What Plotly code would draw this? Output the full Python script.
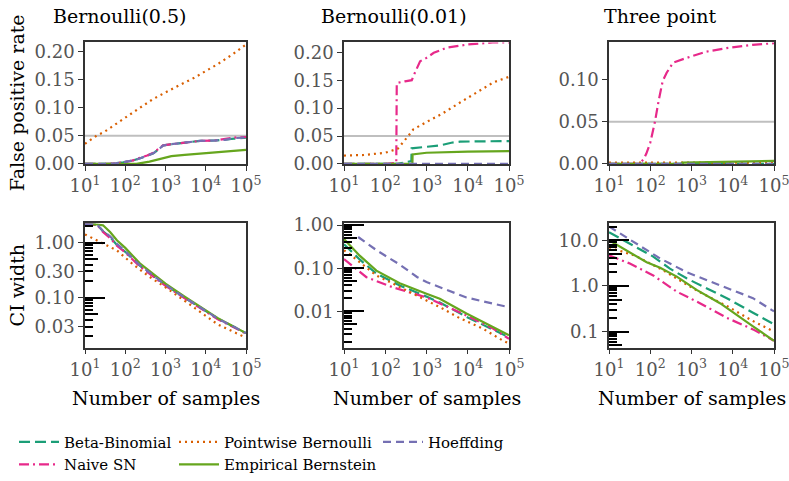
import plotly.graph_objects as go

# ---------------- data ----------------
# Panel 1: False positive rate, Bernoulli(0.5)
fpr1_x_bb = [10, 40, 90, 150, 235, 350, 500, 700, 870, 1300, 2500, 7200, 18000, 30000, 50000, 100000]
fpr1_bb = [0, 0, 0.003, 0.006, 0.010, 0.014, 0.019, 0.027, 0.033, 0.035, 0.037, 0.041, 0.042, 0.043, 0.045, 0.047]
fpr1_sn = [0, 0, 0.003, 0.006, 0.011, 0.015, 0.020, 0.028, 0.033, 0.035, 0.037, 0.041, 0.042, 0.044, 0.047, 0.048]
fpr1_hf = [0, 0, 0.003, 0.006, 0.010, 0.014, 0.019, 0.027, 0.033, 0.035, 0.037, 0.041, 0.042, 0.043, 0.046, 0.047]
fpr1_x_pb = [10, 20, 30, 50, 100, 200, 500, 1000, 2300, 5000, 10000, 20000, 48000, 100000]
fpr1_pb = [0.036, 0.051, 0.057, 0.068, 0.082, 0.097, 0.116, 0.128, 0.141, 0.153, 0.166, 0.178, 0.196, 0.213]
fpr1_x_eb = [10, 190, 400, 930, 1400, 3000, 7200, 12000, 25000, 50000, 70000, 100000]
fpr1_eb = [0, 0, 0.004, 0.010, 0.014, 0.016, 0.018, 0.019, 0.021, 0.022, 0.024, 0.025]

# Panel 2: False positive rate, Bernoulli(0.01)
fpr2_x_bb = [10, 200, 300, 430, 436, 1000, 2100, 4000, 6500, 100000]
fpr2_bb = [0, 0, 0.003, 0.005, 0.028, 0.030, 0.033, 0.038, 0.040, 0.041]
fpr2_x_sn = [10, 100, 185, 190, 300, 440, 500, 700, 1000, 1500, 3000, 6000, 10000, 40000, 100000]
fpr2_sn = [0, 0, 0.002, 0.145, 0.148, 0.150, 0.160, 0.184, 0.190, 0.199, 0.208, 0.211, 0.214, 0.2176, 0.2176]
fpr2_x_pb = [10, 30, 100, 200, 360, 480, 1000, 2400, 6500, 16500, 41700, 100000]
fpr2_pb = [0.015, 0.016, 0.020, 0.027, 0.050, 0.062, 0.075, 0.090, 0.110, 0.128, 0.146, 0.156]
fpr2_x_eb = [10, 455, 460, 1000, 10000, 100000]
fpr2_eb = [0, 0, 0.017, 0.020, 0.022, 0.023]
fpr2_x_hf = [10, 100000]
fpr2_hf = [0, 0]

# Panel 3: False positive rate, Three point
fpr3_x_bb = [10, 100000]
fpr3_bb = [0, 0]
fpr3_x_sn = [10, 55, 70, 80, 100, 120, 130, 160, 200, 250, 360, 760, 2300, 7000, 30000, 100000]
fpr3_sn = [0, 0, 0.006, 0.012, 0.025, 0.040, 0.050, 0.075, 0.098, 0.108, 0.120, 0.1255, 0.133, 0.137, 0.141, 0.143]
fpr3_x_pb = [10, 100000]
fpr3_pb = [0.0015, 0.0015]
fpr3_x_eb = [10, 550, 600, 10000, 100000]
fpr3_eb = [0, 0, 0.0015, 0.0025, 0.0035]
fpr3_x_hf = [10, 100000]
fpr3_hf = [0, 0]

# Panel 4: CI width, Bernoulli(0.5)
ci4_x = [10, 20, 28, 42, 62, 100, 230, 500, 1000, 3000, 7000, 20000, 100000]
ci4_bb = [2.15, 2.10, 1.60, 1.26, 0.90, 0.68, 0.38, 0.250, 0.170, 0.100, 0.068, 0.042, 0.023]
ci4_sn = [2.15, 2.08, 1.55, 1.20, 0.88, 0.66, 0.37, 0.245, 0.165, 0.098, 0.067, 0.041, 0.0225]
ci4_hf = [2.15, 2.10, 1.62, 1.30, 0.95, 0.70, 0.39, 0.255, 0.172, 0.101, 0.069, 0.042, 0.023]
ci4_eb = [2.12, 2.12, 2.05, 1.55, 1.10, 0.80, 0.42, 0.270, 0.180, 0.105, 0.071, 0.043, 0.023]
ci4_x_pb = [10, 15, 28, 62, 158, 400, 1070, 3000, 7240, 20000, 100000]
ci4_pb = [1.40, 1.20, 0.97, 0.72, 0.40, 0.24, 0.150, 0.088, 0.054, 0.033, 0.019]

# Panel 5: CI width, Bernoulli(0.01)
ci5_x = [10, 24, 61, 224, 1000, 2100, 9300, 41000, 100000]
ci5_bb = [0.36, 0.16, 0.075, 0.040, 0.022, 0.016, 0.0075, 0.0038, 0.0025]
ci5_eb = [0.475, 0.196, 0.088, 0.045, 0.0257, 0.0196, 0.0089, 0.0044, 0.0028]
ci5_x_sn = [10, 35, 155, 1000, 6300, 41000, 100000]
ci5_sn = [0.164, 0.062, 0.036, 0.021, 0.0096, 0.0040, 0.0023]
ci5_x_pb = [10, 14, 24, 61, 155, 570, 2500, 6300, 23000, 71000, 100000]
ci5_pb = [0.26, 0.21, 0.138, 0.068, 0.044, 0.0235, 0.0115, 0.0070, 0.0040, 0.0021, 0.0018]
ci5_x_hf = [22, 62, 229, 600, 1000, 3100, 9300, 42000, 100000]
ci5_hf = [0.53, 0.26, 0.12, 0.062, 0.048, 0.031, 0.021, 0.015, 0.0125]

# Panel 6: CI width, Three point
ci6_x_hf = [10, 32, 174, 760, 2300, 7200, 31000, 87000, 100000]
ci6_hf = [20, 10.3, 4.0, 2.0, 1.35, 0.89, 0.54, 0.30, 0.28]
ci6_x_bb = [10, 32, 118, 300, 760, 2300, 7200, 31000, 100000]
ci6_bb = [15, 8.5, 4.4, 2.4, 1.47, 0.89, 0.54, 0.26, 0.145]
ci6_x_eb = [10, 32, 82, 174, 440, 1330, 4900, 31000, 100000]
ci6_eb = [10, 5.5, 3.3, 2.5, 1.6, 0.82, 0.42, 0.13, 0.063]
ci6_x_sn = [10, 32, 118, 440, 1600, 7200, 31000, 100000]
ci6_sn = [4.7, 3.1, 1.7, 0.75, 0.42, 0.20, 0.112, 0.063]
ci6_x_pb = [10, 43, 100, 190, 500, 1500, 7800, 31000, 100000]
ci6_pb = [7.0, 4.6, 3.1, 2.3, 1.35, 0.75, 0.35, 0.17, 0.10]

# Labels
titles = ["Bernoulli(0.5)", "Bernoulli(0.01)", "Three point"]
x_tickvals = [10, 100, 1000, 10000, 100000]
x_ticktext = ["10<sup>1</sup>", "10<sup>2</sup>", "10<sup>3</sup>", "10<sup>4</sup>", "10<sup>5</sup>"]
fpr_ticks_12 = [0.0, 0.05, 0.10, 0.15, 0.20]
fpr_ticktext_12 = ["0.00", "0.05", "0.10", "0.15", "0.20"]
fpr_ticks_3 = [0.0, 0.05, 0.10]
fpr_ticktext_3 = ["0.00", "0.05", "0.10"]
ci4_ticks = [1.0, 0.3, 0.1, 0.03]
ci4_ticktext = ["1.00", "0.30", "0.10", "0.03"]
ci5_ticks = [1.0, 0.1, 0.01]
ci5_ticktext = ["1.00", "0.10", "0.01"]
ci6_ticks = [10, 1, 0.1]
ci6_ticktext = ["10.0", "1.0", "0.1"]
threshold = 0.05

# ---------------- styling ----------------
FONT = "DejaVu Serif, serif"
STYLE = {
    "Beta-Binomial": dict(color="#1b9e77", dash="11px,5px"),
    "Naive SN": dict(color="#e7298a", dash="10px,4px,2px,4px"),
    "Pointwise Bernoulli": dict(color="#d95f02", dash="2px,4px"),
    "Empirical Bernstein": dict(color="#66a61e", dash="solid"),
    "Hoeffding": dict(color="#7570b3", dash="8px,5px"),
}
LEGEND_OF = {
    "Beta-Binomial": "legend", "Naive SN": "legend",
    "Pointwise Bernoulli": "legend2", "Empirical Bernstein": "legend2",
    "Hoeffding": "legend3",
}
ORDER = ["Beta-Binomial", "Naive SN", "Pointwise Bernoulli", "Empirical Bernstein", "Hoeffding"]

panels = [
    {"Beta-Binomial": (fpr1_x_bb, fpr1_bb), "Naive SN": (fpr1_x_bb, fpr1_sn),
     "Pointwise Bernoulli": (fpr1_x_pb, fpr1_pb), "Empirical Bernstein": (fpr1_x_eb, fpr1_eb),
     "Hoeffding": (fpr1_x_bb, fpr1_hf)},
    {"Beta-Binomial": (fpr2_x_bb, fpr2_bb), "Naive SN": (fpr2_x_sn, fpr2_sn),
     "Pointwise Bernoulli": (fpr2_x_pb, fpr2_pb), "Empirical Bernstein": (fpr2_x_eb, fpr2_eb),
     "Hoeffding": (fpr2_x_hf, fpr2_hf)},
    {"Beta-Binomial": (fpr3_x_bb, fpr3_bb), "Naive SN": (fpr3_x_sn, fpr3_sn),
     "Pointwise Bernoulli": (fpr3_x_pb, fpr3_pb), "Empirical Bernstein": (fpr3_x_eb, fpr3_eb),
     "Hoeffding": (fpr3_x_hf, fpr3_hf)},
    {"Beta-Binomial": (ci4_x, ci4_bb), "Naive SN": (ci4_x, ci4_sn),
     "Pointwise Bernoulli": (ci4_x_pb, ci4_pb), "Empirical Bernstein": (ci4_x, ci4_eb),
     "Hoeffding": (ci4_x, ci4_hf)},
    {"Beta-Binomial": (ci5_x, ci5_bb), "Naive SN": (ci5_x_sn, ci5_sn),
     "Pointwise Bernoulli": (ci5_x_pb, ci5_pb), "Empirical Bernstein": (ci5_x, ci5_eb),
     "Hoeffding": (ci5_x_hf, ci5_hf)},
    {"Beta-Binomial": (ci6_x_bb, ci6_bb), "Naive SN": (ci6_x_sn, ci6_sn),
     "Pointwise Bernoulli": (ci6_x_pb, ci6_pb), "Empirical Bernstein": (ci6_x_eb, ci6_eb),
     "Hoeffding": (ci6_x_hf, ci6_hf)},
]

W, H = 789, 481
xdom_px = [(85, 246), (344, 509), (609, 774)]
ydom_top_px = (43, 166)
ydom_bot_px = (226, 352)

def xdom(i):
    a, b = xdom_px[i]
    return [a / W, b / W]

def ydom(px):
    return [1 - px[1] / H, 1 - px[0] / H]

fig = go.Figure()
for p, series in enumerate(panels):
    k = "" if p == 0 else str(p + 1)
    for name in ORDER:
        xs, ys = series[name]
        st = STYLE[name]
        fig.add_trace(go.Scatter(
            x=xs, y=ys, mode="lines", name=name, xaxis="x" + k, yaxis="y" + k,
            line=dict(color=st["color"], dash=st["dash"], width=2.2),
            showlegend=(p == 0), legend=LEGEND_OF[name], hoverinfo="skip"))

tickfont = dict(family=FONT, size=18, color="#555555")
axis_common = dict(showline=True, linecolor="#333333", linewidth=1.6, mirror=True,
                   ticks="outside", ticklen=5, tickwidth=1.4, tickcolor="#333333",
                   showgrid=False, zeroline=False, tickfont=tickfont, automargin=False,
                   ticklabeloverflow="allow")

layout = {}
fpr_ranges = [[0, 0.2165], [0, 0.2176], [0, 0.1438]]
fpr_ticks = [(fpr_ticks_12, fpr_ticktext_12), (fpr_ticks_12, fpr_ticktext_12), (fpr_ticks_3, fpr_ticktext_3)]
ci_ranges = [[-1.90, 0.35], [-2.84, 0.045], [-1.35, 1.375]]
ci_ticks = [(ci4_ticks, ci4_ticktext), (ci5_ticks, ci5_ticktext), (ci6_ticks, ci6_ticktext)]

for p in range(6):
    k = "" if p == 0 else str(p + 1)
    col = p % 3
    top = p < 3
    layout["xaxis" + k] = dict(axis_common, type="log", range=[1, 5], domain=xdom(col),
                               anchor="y" + k, tickvals=x_tickvals, ticktext=x_ticktext)
    if top:
        tv, tt = fpr_ticks[col]
        layout["yaxis" + k] = dict(axis_common, range=fpr_ranges[col], domain=ydom(ydom_top_px),
                                   anchor="x" + k, tickvals=tv, ticktext=tt)
    else:
        tv, tt = ci_ticks[col]
        layout["yaxis" + k] = dict(axis_common, type="log", range=ci_ranges[col],
                                   domain=ydom(ydom_bot_px), anchor="x" + k,
                                   tickvals=tv, ticktext=tt)

# inner black tick marks on the log CI axes
decades = [10.0 ** e for e in range(-3, 2)]
fives = [5 * 10.0 ** e for e in range(-3, 2)]
others = [m * 10.0 ** e for e in range(-3, 2) for m in (2, 3, 4, 6, 7, 8, 9)]
n = 7
for col in range(3):
    base = str(4 + col)
    for vals, ln in ((decades, 20), (fives, 13), (others, 8)):
        layout["yaxis" + str(n)] = dict(
            type="log", range=ci_ranges[col], overlaying="y" + base, anchor="x" + base,
            side="left", showline=False, showgrid=False, zeroline=False, automargin=False,
            ticks="inside", ticklen=ln, tickwidth=1.8, tickcolor="#000000",
            tickmode="array", tickvals=vals, showticklabels=False)
        fig.add_trace(go.Scatter(x=[], y=[], xaxis="x" + base, yaxis="y" + str(n),
                                 showlegend=False, hoverinfo="skip"))
        n += 1

shapes = []
for col in range(3):
    k = "" if col == 0 else str(col + 1)
    shapes.append(dict(type="line", xref="x" + k + " domain", yref="y" + k,
                       x0=0, x1=1, y0=threshold, y1=threshold, layer="below",
                       line=dict(color="#bfbfbf", width=2)))

ann = []
title_centers = [119, 394, 660]
for col in range(3):
    ann.append(dict(text=titles[col], x=title_centers[col] / W, y=1 - 16 / H, xref="paper", yref="paper",
                    showarrow=False, xanchor="center", yanchor="middle",
                    font=dict(family=FONT, size=19, color="#000000")))
    a, b = xdom_px[col]
    ann.append(dict(text="Number of samples", x=(a + b) / 2 / W, y=1 - 403 / H, xref="paper", yref="paper",
                    showarrow=False, xanchor="center", yanchor="middle",
                    font=dict(family=FONT, size=19, color="#000000")))
ann.append(dict(text="False positive rate", x=17 / W, y=1 - 104.5 / H, xref="paper", yref="paper",
                showarrow=False, textangle=-90, xanchor="center", yanchor="middle",
                font=dict(family=FONT, size=19, color="#000000")))
ann.append(dict(text="CI width", x=17 / W, y=1 - 289 / H, xref="paper", yref="paper",
                showarrow=False, textangle=-90, xanchor="center", yanchor="middle",
                font=dict(family=FONT, size=19, color="#000000")))

legfont = dict(family=FONT, size=15, color="#000000")
leg_common = dict(orientation="v", xanchor="left", yanchor="top", yref="paper", xref="paper",
                  font=legfont, bgcolor="rgba(0,0,0,0)", tracegroupgap=0, itemwidth=40,
                  traceorder="normal")

fig.update_layout(
    width=W, height=H, margin=dict(l=0, r=0, t=0, b=0),
    font=dict(family=FONT, size=15, color="#000000"),
    paper_bgcolor="white", plot_bgcolor="white",
    shapes=shapes, annotations=ann,
    legend=dict(leg_common, x=14 / W, y=1 - 431 / H),
    legend2=dict(leg_common, x=174 / W, y=1 - 431 / H),
    legend3=dict(leg_common, x=378 / W, y=1 - 431 / H),
    **layout,
)

fig.write_html(
    "out.html",
    config={"displayModeBar": False},
    post_script="document.body.style.margin='0';document.body.style.overflow='hidden';",
)
